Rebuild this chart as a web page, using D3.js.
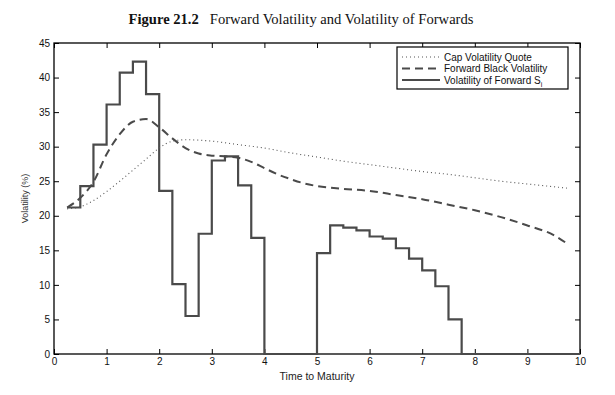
<!DOCTYPE html>
<html>
<head>
<meta charset="utf-8">
<script src="https://cdn.jsdelivr.net/npm/d3@7"></script>
<style>
  body { margin: 0; background: #fff; }
  svg { display: block; }
  .tick text { font-family: "Liberation Sans", Arial, sans-serif; font-size: 10px; fill: #111; }
</style>
</head>
<body>
<svg id="chart" width="615" height="395"></svg>
<script>
"use strict";

// Datos
const capT = [0.25, 0.5, 0.75, 1.0, 1.25, 1.5, 1.75, 2.0, 2.25, 2.5, 3.0, 3.5, 4.0, 4.5, 5.0, 5.5, 6.0, 6.5, 7.0, 7.5, 8.0, 8.5, 9.0, 9.5, 9.75];
const capVol = [21.0, 21.3, 22.2, 23.5, 25.0, 26.6, 28.2, 29.8, 30.8, 31.0, 30.8, 30.3, 29.8, 29.1, 28.5, 27.9, 27.4, 26.9, 26.4, 26.0, 25.5, 25.0, 24.6, 24.2, 24.0];

const fwdT = [0.25, 0.5, 0.75, 1.0, 1.25, 1.5, 1.75, 2.0, 2.25, 2.5, 2.75, 3.0, 3.25, 3.5, 3.75, 4.0, 4.25, 4.5, 4.75, 5.0, 5.5, 6.0, 6.5, 7.0, 7.5, 8.0, 8.5, 9.0, 9.5, 9.75];
const fwdVol = [21.2, 22.6, 24.9, 28.9, 31.8, 33.6, 34.0, 32.8, 31.2, 29.8, 29.0, 28.7, 28.6, 28.4, 27.8, 26.9, 26.0, 25.3, 24.7, 24.3, 23.9, 23.6, 23.0, 22.4, 21.6, 20.8, 19.8, 18.6, 17.2, 16.0];

// Volatilidad de S_i: cada escalón empieza en stepStart y dura 0.25
const stepStart = [0.25, 0.5, 0.75, 1.0, 1.25, 1.5, 1.75, 2.0, 2.25, 2.5, 2.75, 3.0, 3.25, 3.5, 3.75, 4.0, 4.25, 4.5, 4.75, 5.0, 5.25, 5.5, 5.75, 6.0, 6.25, 6.5, 6.75, 7.0, 7.25, 7.5, 7.75, 8.0, 8.25, 8.5, 8.75, 9.0, 9.25, 9.5, 9.75];
const stepVol = [21.2, 24.3, 30.3, 36.1, 40.7, 42.3, 37.6, 23.6, 10.1, 5.5, 17.4, 28.0, 28.6, 24.4, 16.8, 0, 0, 0, 0, 14.6, 18.6, 18.3, 17.9, 17.0, 16.7, 15.3, 13.8, 12.1, 9.8, 5.0, 0, 0, 0, 0, 0, 0, 0, 0, 0];
const stepWidth = 0.25;

const xTicks = [0, 1, 2, 3, 4, 5, 6, 7, 8, 9, 10];
const yTicks = [0, 5, 10, 15, 20, 25, 30, 35, 40, 45];
const legendLabels = ["Cap Volatility Quote", "Forward Black Volatility", "Volatility of Forward S"];

// Dimensiones
const width = 615;
const height = 395;
const margin = { top: 43, right: 35, bottom: 41, left: 54 };

const svg = d3.select("#chart");

const x = d3.scaleLinear().domain([0, 10]).range([margin.left, width - margin.right]);
const y = d3.scaleLinear().domain([0, 45]).range([height - margin.bottom, margin.top]);

// Título
const title = svg.append("text")
  .attr("x", 301)
  .attr("y", 24)
  .attr("text-anchor", "middle")
  .attr("font-family", "Liberation Serif, Times New Roman, serif")
  .attr("font-size", "14.6px")
  .attr("fill", "#111");
title.append("tspan").attr("font-weight", "bold").text("Figure 21.2");
title.append("tspan").attr("dx", 11).text("Forward Volatility and Volatility of Forwards");

// Ejes (ticks hacia dentro, estilo caja)
const tickLen = 5;
const axisStyle = (g) => {
  g.select(".domain").remove();
  g.selectAll(".tick line").attr("stroke", "#000").attr("stroke-width", 1);
};

svg.append("g")
  .attr("transform", `translate(0,${y(0)})`)
  .call(d3.axisBottom(x).tickValues(xTicks).tickSize(-tickLen).tickPadding(4).tickFormat(d3.format("d")))
  .call(axisStyle);

svg.append("g")
  .attr("transform", `translate(0,${y(45)})`)
  .call(d3.axisTop(x).tickValues(xTicks).tickSize(-tickLen).tickFormat(""))
  .call(axisStyle);

svg.append("g")
  .attr("transform", `translate(${x(0)},0)`)
  .call(d3.axisLeft(y).tickValues(yTicks).tickSize(-tickLen).tickPadding(4).tickFormat(d3.format("d")))
  .call(axisStyle);

svg.append("g")
  .attr("transform", `translate(${x(10)},0)`)
  .call(d3.axisRight(y).tickValues(yTicks).tickSize(-tickLen).tickFormat(""))
  .call(axisStyle);

// Marco
svg.append("rect")
  .attr("x", x(0))
  .attr("y", y(45))
  .attr("width", x(10) - x(0))
  .attr("height", y(0) - y(45))
  .attr("fill", "none")
  .attr("stroke", "#000")
  .attr("stroke-width", 1.3);

// Etiquetas de ejes
svg.append("text")
  .attr("x", (x(0) + x(10)) / 2)
  .attr("y", 380)
  .attr("text-anchor", "middle")
  .attr("font-family", "Liberation Sans, Arial, sans-serif")
  .attr("font-size", "10.5px")
  .attr("fill", "#222")
  .text("Time to Maturity");

svg.append("text")
  .attr("transform", `translate(28,${(y(0) + y(45)) / 2}) rotate(-90)`)
  .attr("text-anchor", "middle")
  .attr("font-family", "Liberation Sans, Arial, sans-serif")
  .attr("font-size", "9px")
  .attr("fill", "#333")
  .text("Volatility (%)");

// Líneas
const line = d3.line()
  .x((d) => x(d[0]))
  .y((d) => y(d[1]))
  .curve(d3.curveMonotoneX);

const capData = capT.map((t, i) => [t, capVol[i]]);
const fwdData = fwdT.map((t, i) => [t, fwdVol[i]]);

const stepData = stepStart.map((t, i) => [t, stepVol[i]]);
stepData.push([stepStart[stepStart.length - 1] + stepWidth, stepVol[stepVol.length - 1]]);
const stepLine = d3.line()
  .x((d) => x(d[0]))
  .y((d) => y(d[1]))
  .curve(d3.curveStepAfter);

svg.append("path")
  .datum(stepData)
  .attr("fill", "none")
  .attr("stroke", "#4a4a4a")
  .attr("stroke-width", 2.2)
  .attr("d", stepLine);

svg.append("path")
  .datum(capData)
  .attr("fill", "none")
  .attr("stroke", "#555")
  .attr("stroke-width", 1.1)
  .attr("stroke-dasharray", "1,3")
  .attr("d", line);

svg.append("path")
  .datum(fwdData)
  .attr("fill", "none")
  .attr("stroke", "#4a4a4a")
  .attr("stroke-width", 2)
  .attr("stroke-dasharray", "8,5")
  .attr("d", line);

// Leyenda
const legend = svg.append("g").attr("transform", "translate(397,47)");
legend.append("rect")
  .attr("width", 171)
  .attr("height", 42)
  .attr("fill", "#fff")
  .attr("stroke", "#000")
  .attr("stroke-width", 1.2);

const legendStyles = [
  { dash: "1,3", width: 1.1, color: "#555" },
  { dash: "8,5", width: 2, color: "#4a4a4a" },
  { dash: null, width: 2, color: "#4a4a4a" },
];

legendLabels.forEach((label, i) => {
  const ly = 10 + i * 11.5;
  legend.append("line")
    .attr("x1", 5)
    .attr("x2", 43)
    .attr("y1", ly)
    .attr("y2", ly)
    .attr("stroke", legendStyles[i].color)
    .attr("stroke-width", legendStyles[i].width)
    .attr("stroke-dasharray", legendStyles[i].dash);
  const t = legend.append("text")
    .attr("x", 47)
    .attr("y", ly + 3.5)
    .attr("font-family", "Liberation Sans, Arial, sans-serif")
    .attr("font-size", "10px")
    .attr("fill", "#111")
    .text(label);
  if (i === 2) {
    t.append("tspan").attr("font-size", "7px").attr("dy", 3).text("i");
  }
});
</script>
</body>
</html>
